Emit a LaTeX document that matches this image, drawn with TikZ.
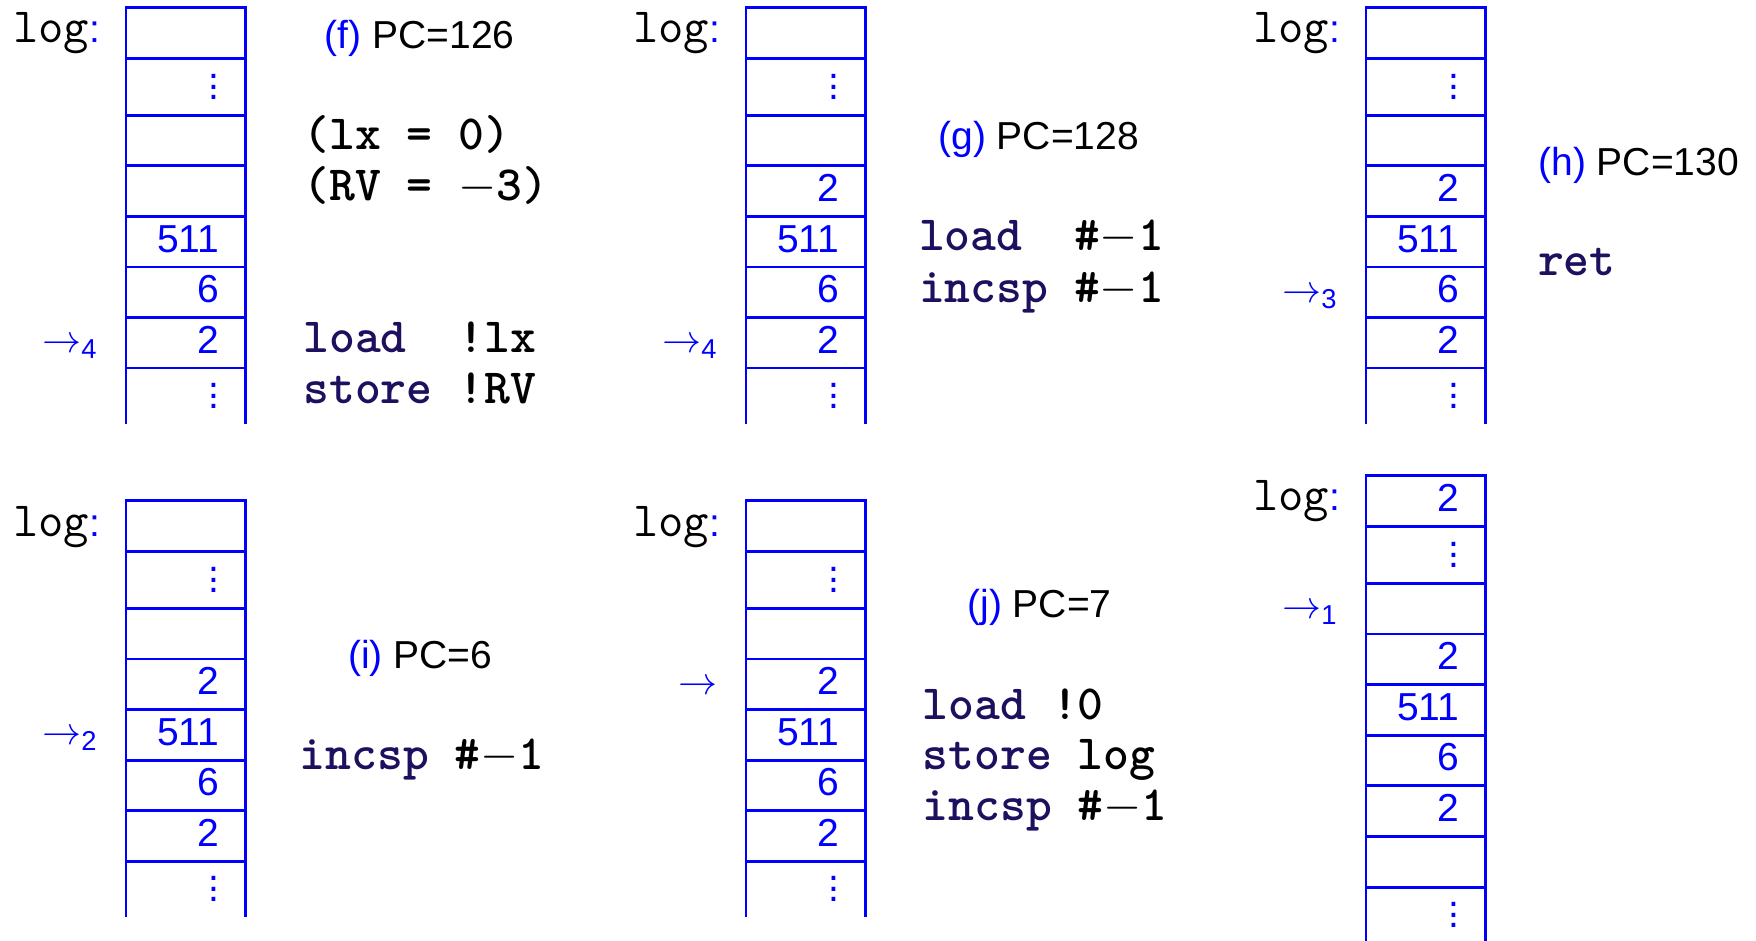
\RequirePackage{fix-cm}
\documentclass[tikz,border=0pt]{standalone}
\usepackage{amsmath}
\usepackage{fontspec}
\setmainfont{Liberation Sans}
\definecolor{stkblue}{RGB}{0,0,255}
\definecolor{opnavy}{RGB}{30,15,95}
\newcommand\sfsz{\fontsize{19.5}{23}\selectfont}
\newcommand\ttsz{\fontsize{24.6}{28}\selectfont\ttfamily}
\newcommand\vdotsb{\vbox{\baselineskip=5.25pt\lineskiplimit=-20pt\hbox{.}\hbox{.}\hbox{.}}}
\newcommand\op[1]{\textcolor{opnavy}{#1}}
\tikzset{
  stk/.style={draw=stkblue, line width=1.35pt},
  val/.style={anchor=base east, inner sep=0pt, text=stkblue, font=\sfsz},
  dts/.style={inner sep=0pt, text=stkblue, font=\sfsz},
  ptr/.style={anchor=base east, inner sep=0pt, text=stkblue, font=\sfsz},
  loglbl/.style={anchor=base west, inner sep=0pt, font=\sfsz},
  ttl/.style={anchor=base west, inner sep=0pt, font=\sfsz},
  codeln/.style={anchor=base west, inner sep=0pt, font=\ttsz\bfseries},
}
% stack outline: x, y, length of open sides
\newcommand\stklines[3]{%
  \begin{scope}[shift={(#1,#2)}]
    \draw[stk] (0,#3) -- (0,0) -- (119.7,0) -- (119.7,#3);
    \foreach \b in {51,108,158.3,208.7,259.5,310,360.5} {\draw[stk] (0,\b) -- (119.7,\b);}
  \end{scope}}
% cell value: name, stack x, stack y, row centre, text
\newcommand\cv[5]{\node[val] (#1) at ({#2+93.7},{#3+#4+10.5}) {#5};}
% cell dots: name, stack x, stack y, row centre
\newcommand\cd[4]{\node[dts] (#1) at ({#2+87.7},{#3+#4}) {\vdotsb};}
\newcommand\loglabel{{\ttsz log}\textcolor{stkblue}{:}}
\begin{document}
\begin{tikzpicture}[x=0.5pt,y=-0.5pt]
\useasboundingbox (0,0) rectangle (1756,941);

% ---------- (f) ----------
\stklines{126}{7.5}{416.5}
\cd{f-r1}{126}{7.5}{79.5}
\cv{f-r4}{126}{7.5}{234.1}{511}
\cv{f-r5}{126}{7.5}{284.75}{6}
\cv{f-r6}{126}{7.5}{335.25}{2}
\cd{f-r7}{126}{7.5}{388.5}
\node[loglbl] (f-log) at (12.7,42.7) {\loglabel};
\node[ptr] (f-ptr) at (98,{7.5+335.25+10}) {$\rightarrow_{\text{4}}$};
\node[ttl] (f-title) at (324.4,48.3) {\textcolor{stkblue}{(f)} PC=126};
\node[codeln] (f-c1) at (303,150) {(lx = 0)};
\node[codeln] (f-c2) at (303,200.5) {(RV = $-$3)};
\node[codeln] (f-c3) at (303,352.5) {\op{load}\ \ !lx};
\node[codeln] (f-c4) at (303,403) {\op{store} !RV};

% ---------- (g) ----------
\stklines{746}{7.5}{416.5}
\cd{g-r1}{746}{7.5}{79.5}
\cv{g-r3}{746}{7.5}{183.5}{2}
\cv{g-r4}{746}{7.5}{234.1}{511}
\cv{g-r5}{746}{7.5}{284.75}{6}
\cv{g-r6}{746}{7.5}{335.25}{2}
\cd{g-r7}{746}{7.5}{388.5}
\node[loglbl] (g-log) at (632.7,42.7) {\loglabel};
\node[ptr] (g-ptr) at (718,{7.5+335.25+10}) {$\rightarrow_{\text{4}}$};
\node[ttl] (g-title) at (938,150) {\textcolor{stkblue}{(g)} PC=128};
\node[codeln] (g-c1) at (918.7,251) {\op{load}\ \ \#$-$1};
\node[codeln] (g-c2) at (918.7,302) {\op{incsp} \#$-$1};

% ---------- (h) ----------
\stklines{1366}{7.5}{416.5}
\cd{h-r1}{1366}{7.5}{79.5}
\cv{h-r3}{1366}{7.5}{183.5}{2}
\cv{h-r4}{1366}{7.5}{234.1}{511}
\cv{h-r5}{1366}{7.5}{284.75}{6}
\cv{h-r6}{1366}{7.5}{335.25}{2}
\cd{h-r7}{1366}{7.5}{388.5}
\node[loglbl] (h-log) at (1252.7,42.7) {\loglabel};
\node[ptr] (h-ptr) at (1338,{7.5+284.75+10}) {$\rightarrow_{\text{3}}$};
\node[ttl] (h-title) at (1538,176) {\textcolor{stkblue}{(h)} PC=130};
\node[codeln] (h-c1) at (1537.6,276) {\op{ret}};

% ---------- (i) ----------
\stklines{126}{500.7}{416.5}
\cd{i-r1}{126}{500.7}{79.5}
\cv{i-r3}{126}{500.7}{183.5}{2}
\cv{i-r4}{126}{500.7}{234.1}{511}
\cv{i-r5}{126}{500.7}{284.75}{6}
\cv{i-r6}{126}{500.7}{335.25}{2}
\cd{i-r7}{126}{500.7}{388.5}
\node[loglbl] (i-log) at (12.7,536) {\loglabel};
\node[ptr] (i-ptr) at (98,{500.7+234.1+10}) {$\rightarrow_{\text{2}}$};
\node[ttl] (i-title) at (347.8,668.3) {\textcolor{stkblue}{(i)} PC=6};
\node[codeln] (i-c1) at (299.5,769.5) {\op{incsp} \#$-$1};

% ---------- (j) ----------
\stklines{746}{500.7}{416.5}
\cd{j-r1}{746}{500.7}{79.5}
\cv{j-r3}{746}{500.7}{183.5}{2}
\cv{j-r4}{746}{500.7}{234.1}{511}
\cv{j-r5}{746}{500.7}{284.75}{6}
\cv{j-r6}{746}{500.7}{335.25}{2}
\cd{j-r7}{746}{500.7}{388.5}
\node[loglbl] (j-log) at (632.7,536) {\loglabel};
\node[ptr] (j-ptr) at (718,{500.7+183.5+10}) {$\rightarrow$};
\node[ttl] (j-title) at (967,617.3) {\textcolor{stkblue}{(j)} PC=7};
\node[codeln] (j-c1) at (922.5,719.3) {\op{load} !0};
\node[codeln] (j-c2) at (922.5,769.5) {\op{store} log};
\node[codeln] (j-c3) at (922.5,820) {\op{incsp} \#$-$1};

% ---------- (k) ----------
\stklines{1366}{475.7}{470}
\draw[stk] (1366,{475.7+411.5}) -- (1485.7,{475.7+411.5});
\cv{k-r0}{1366}{475.7}{25.5}{2}
\cd{k-r1}{1366}{475.7}{79.5}
\cv{k-r3}{1366}{475.7}{183.5}{2}
\cv{k-r4}{1366}{475.7}{234.1}{511}
\cv{k-r5}{1366}{475.7}{284.75}{6}
\cv{k-r6}{1366}{475.7}{335.25}{2}
\cd{k-r8}{1366}{475.7}{439.5}
\node[loglbl] (k-log) at (1252.7,510.9) {\loglabel};
\node[ptr] (k-ptr) at (1338,{475.7+133.2+10}) {$\rightarrow_{\text{1}}$};
\end{tikzpicture}
\end{document}
